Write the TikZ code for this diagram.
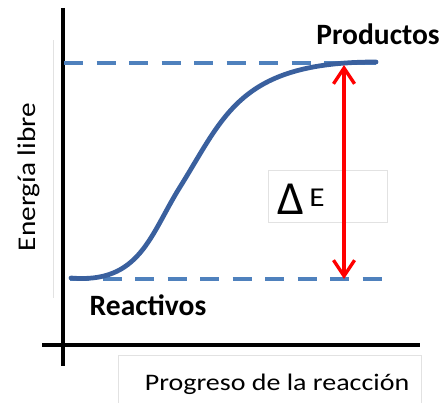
\documentclass[tikz,border=0pt]{standalone}
\usepackage{fontspec}
\setmainfont{Carlito}
\usetikzlibrary{arrows.meta}
\definecolor{dashblue}{RGB}{79,129,189}
\definecolor{curveblue}{RGB}{58,96,158}
\definecolor{boxgray}{RGB}{226,226,226}
\tikzset{
	axisline/.style={line width=2.6pt, color=black},
	levelline/.style={line width=2.2pt, color=dashblue, dash pattern=on 11pt off 7.5pt},
	faintbox/.style={line width=0.5pt, color=boxgray},
	deltaarrow/.style={line width=1.9pt, color=red, <->, >={Straight Barb[length=9pt, width=12pt, line width=1.9pt]}},
	boldlabel/.style={font=\fontsize{16.8}{18}\selectfont\bfseries, inner sep=0pt, anchor=base},
	plainlabel/.style={font=\fontsize{13.5}{15}\selectfont, inner sep=0pt, anchor=base}
}

\begin{document}
\begin{tikzpicture}[x=0.02cm, y=-0.02cm]
			%%%%% START %%%%%
			
			\useasboundingbox (0, 0) rectangle (445, 402);
			\clip (0, 0) rectangle (445, 402);
			
			% faint text boxes
			\draw[faintbox] (53, 40) -- (53, 298);
			\draw[faintbox] (268, 170) rectangle (387, 222);
			\draw[faintbox] (118, 410) -- (118, 355) -- (421, 355) -- (421, 410);
			
			% axes
			\draw[axisline] (63, 8) -- (63, 366);
			\draw[axisline] (42, 345) -- (420, 345);
			
			% energy levels
			\coordinate (prodL) at (64, 63);
			\coordinate (prodR) at (378, 63);
			\coordinate (reacL) at (70, 279);
			\coordinate (reacR) at (386, 279);
			\draw[levelline] (prodL) -- (prodR);
			\draw[levelline] (reacL) -- (reacR);
			
			% reaction curve
			\draw[line width=2.7pt, color=curveblue, line cap=round]
				(71, 278) .. controls (140, 284) and (150, 235) .. (180, 187)
				.. controls (225, 115) and (240, 62) .. (376, 62);
			
			% energy difference
			\coordinate (dTop) at (344, 65);
			\coordinate (dBot) at (344, 279);
			\draw[deltaarrow] (dTop) -- (dBot);
			
			% labels
			\node[boldlabel] (productos) at (378, 45) {Productos};
			\node[boldlabel] (reactivos) at (148, 315) {Reactivos};
			\node[plainlabel, anchor=base west] (delta) at (277, 214) {\fontsize{27}{30}\selectfont Δ};
			\node[plainlabel, anchor=base west] (energia) at (309, 206) {\fontsize{15.5}{17}\selectfont\scalebox{1.15}[1]{E}};
			\node[plainlabel] (xlabel) at (277, 390) {\scalebox{1.18}[1]{Progreso de la reacción}};
			\node[plainlabel, rotate=90] (ylabel) at (35, 177) {\fontsize{14.5}{16}\selectfont\scalebox{1.15}[1]{Energía libre}};
			
			%%%%% END %%%%%
		\end{tikzpicture}
\end{document}
